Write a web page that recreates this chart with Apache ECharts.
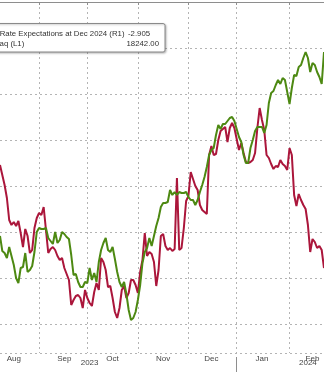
<!DOCTYPE html>
<html>
<head>
<meta charset="utf-8">
<script src="https://cdn.jsdelivr.net/npm/echarts@6/dist/echarts.min.js"></script>
<style>
  html, body { margin: 0; padding: 0; background: #fff; }
  #chart { width: 324px; height: 372px; }
</style>
</head>
<body>
<div id="chart"></div>
<script>
// Trading calendar (weekdays) covered by the chart
const startDate = '2023-08-09';
const endDate = '2024-02-22';

function weekdayDates(from, to) {
  const out = [];
  const d = new Date(from + 'T00:00:00Z');
  const end = new Date(to + 'T00:00:00Z');
  while (d <= end) {
    const wd = d.getUTCDay();
    if (wd !== 0 && wd !== 6) out.push(d.toISOString().slice(0, 10));
    d.setUTCDate(d.getUTCDate() + 1);
  }
  return out;
}
const dates = weekdayDates(startDate, endDate);

// Nasdaq (L1), daily close
const nasdaq = [
  15482, 15257, 15227, 15152, 15317, 15182, 15047, 14852, 14777, 15002,
  15017, 15227, 14942, 14972, 15032, 15242, 15542, 15602, 15587, 15587,
  15602, 15452, 15407, 15362, 15542, 15377, 15422, 15542, 15512, 15467,
  15437, 15197, 14897, 14912, 14792, 14717, 14717, 14792, 14777, 15002,
  14822, 14927, 14792, 15092, 15272, 15377, 15452, 15272, 15242, 15317,
  15137, 14942, 14792, 14717, 14792, 14612, 14372, 14222, 14252, 14342,
  14522, 14747, 15077, 15242, 15302, 15452, 15332, 15482, 15632, 15752,
  15917, 15977, 15977, 15992, 16172, 16097, 16142, 16097, 16142, 16127,
  16127, 16142, 16067, 16022, 16022, 15947, 16022, 16142, 16247, 16367,
  16517, 16697, 16772, 16802, 16997, 17147, 17087, 17162, 17162, 17207,
  17252, 17267, 17207, 17087, 16967, 16892, 16697, 16577, 16577, 16802,
  16922, 17057, 17117, 17117, 17117, 17027, 17147, 17477, 17627, 17657,
  17747, 17822, 17762, 17852, 17822, 17642, 17462, 17702, 17897, 17882,
  18017, 18047, 18152, 18242, 18152, 17942, 18077, 18047, 17942, 17867,
  17762, 18242
];

// Rate Expectations at Dec 2024 (R1), number of 25bp moves priced
const rateExp = [
  -5.480, -5.230, -4.980, -4.655, -4.105, -3.980, -4.055, -3.955, -4.080, -3.780,
  -3.430, -3.880, -3.705, -3.280, -3.355, -3.905, -4.155, -4.280, -4.230, -4.430,
  -3.855, -3.280, -3.380, -3.430, -3.355, -3.205, -3.105, -3.155, -2.905, -2.755,
  -2.605, -1.980, -2.105, -2.205, -2.230, -2.155, -1.905, -2.355, -2.155, -2.030,
  -1.955, -2.305, -2.530, -2.355, -3.155, -3.055, -2.855, -2.430, -2.455, -2.155,
  -1.805, -1.655, -1.905, -2.355, -2.455, -2.155, -2.280, -2.605, -2.605, -2.480,
  -2.280, -2.805, -3.105, -3.780, -3.205, -3.305, -3.255, -3.055, -2.455, -2.855,
  -3.705, -3.755, -3.455, -3.355, -3.405, -3.330, -3.380, -5.155, -3.355, -3.405,
  -3.905, -4.580, -4.705, -5.305, -5.130, -4.955, -4.855, -4.480, -4.355, -4.305,
  -4.255, -5.730, -5.955, -5.730, -5.755, -6.105, -6.330, -6.380, -6.430, -6.055,
  -6.405, -6.530, -6.405, -6.130, -5.855, -6.030, -5.780, -5.555, -5.530, -5.555,
  -5.605, -5.780, -6.405, -6.905, -6.605, -6.355, -5.730, -5.655, -5.505, -5.380,
  -5.455, -5.430, -5.605, -5.505, -5.455, -5.355, -5.905, -5.730, -4.730, -4.455,
  -4.755, -4.605, -4.480, -4.380, -3.980, -3.305, -3.630, -3.555, -3.405, -3.455,
  -3.355, -2.905
];

// Axis labels
const monthLabels = {
  '2023-08-17': 'Aug', '2023-09-18': 'Sep', '2023-10-17': 'Oct', '2023-11-16': 'Nov',
  '2023-12-15': 'Dec', '2024-01-16': 'Jan', '2024-02-15': 'Feb'
};
const yearLabels = { '2023-10-03': '2023', '2024-02-13': '2024' };
const monthStarts = ['2023-09-01', '2023-10-02', '2023-11-01', '2023-12-01', '2024-01-01', '2024-02-01'];
const yearStarts = ['2024-01-01'];

const seriesNames = ['Rate Expectations at Dec 2024 (R1)', 'Nasdaq (L1)'];

const RED = '#ab163b';
const GREEN = '#4d8912';
const FONT = '"Liberation Sans", Arial, sans-serif';
const GRID_COLOR = '#b4b4b4';
const AXIS_COLOR = '#8e8e8e';

const chart = echarts.init(document.getElementById('chart'), null, { renderer: 'canvas' });

chart.setOption({
  animation: false,
  backgroundColor: '#fff',
  grid: { left: 0, right: 0, top: 2, bottom: 19, containLabel: false, outerBoundsMode: 'none' },
  xAxis: [
    {
      type: 'category',
      data: dates,
      boundaryGap: false,
      position: 'bottom',
      axisLine: { show: true, lineStyle: { color: AXIS_COLOR, width: 1 } },
      axisTick: {
        show: true, length: 3,
        interval: (i, v) => monthStarts.includes(v),
        lineStyle: { color: AXIS_COLOR }
      },
      axisLabel: {
        interval: (i, v) => v in monthLabels,
        formatter: v => monthLabels[v] || '',
        fontSize: 8, fontFamily: FONT, color: '#454545', margin: 2
      },
      splitLine: {
        show: true,
        interval: (i, v) => monthStarts.includes(v),
        lineStyle: { color: GRID_COLOR, type: [2, 3], width: 1 }
      }
    },
    {
      type: 'category',
      data: dates,
      boundaryGap: false,
      position: 'bottom',
      offset: 4,
      axisLine: { show: false },
      axisTick: {
        show: true, length: 16,
        interval: (i, v) => yearStarts.includes(v),
        lineStyle: { color: AXIS_COLOR }
      },
      axisLabel: {
        interval: (i, v) => v in yearLabels,
        formatter: v => yearLabels[v] || '',
        fontSize: 8, fontFamily: FONT, color: '#454545', margin: 2
      },
      splitLine: { show: false }
    }
  ],
  yAxis: [
    { type: 'value', show: false, min: 13727, max: 18992, splitLine: { show: false } },
    { type: 'value', show: false, inverse: true, min: -9.555, max: -0.78, splitLine: { show: false } },
    {
      type: 'value', position: 'right', inverse: true, min: 0, max: 351 / 46, interval: 1,
      axisLine: { show: false }, axisTick: { show: false }, axisLabel: { show: false },
      splitLine: { show: true, lineStyle: { color: GRID_COLOR, type: [2, 3], width: 1 } }
    }
  ],
  series: [
    {
      name: seriesNames[0], type: 'line', yAxisIndex: 1, data: rateExp,
      showSymbol: false, symbol: 'none',
      lineStyle: { color: RED, width: 2 }, z: 2
    },
    {
      name: seriesNames[1], type: 'line', yAxisIndex: 0, data: nasdaq,
      showSymbol: false, symbol: 'none',
      lineStyle: { color: GREEN, width: 2 }, z: 3
    }
  ],
  graphic: [
    {
      type: 'rect', z: 100,
      shape: { x: -6, y: 23.5, width: 171, height: 28.5, r: 2 },
      style: { fill: '#fff', stroke: '#8a8a8a', lineWidth: 1, shadowBlur: 2, shadowColor: 'rgba(0,0,0,0.25)', shadowOffsetX: 1, shadowOffsetY: 1 }
    },
    {
      type: 'text', z: 101, x: 124.5, y: 33.5,
      style: { text: seriesNames[0], align: 'right', verticalAlign: 'middle', font: '7.8px ' + FONT, fill: '#333' }
    },
    {
      type: 'text', z: 101, x: 24.3, y: 43.5,
      style: { text: seriesNames[1], align: 'right', verticalAlign: 'middle', font: '7.8px ' + FONT, fill: '#333' }
    },
    {
      type: 'text', z: 101, x: 128, y: 33.5,
      style: { text: rateExp[rateExp.length - 1].toFixed(3), align: 'left', verticalAlign: 'middle', font: '7.8px ' + FONT, fill: '#333' }
    },
    {
      type: 'text', z: 101, x: 159, y: 43.5,
      style: { text: nasdaq[nasdaq.length - 1].toFixed(2), align: 'right', verticalAlign: 'middle', font: '7.8px ' + FONT, fill: '#333' }
    }
  ]
});
</script>
</body>
</html>
